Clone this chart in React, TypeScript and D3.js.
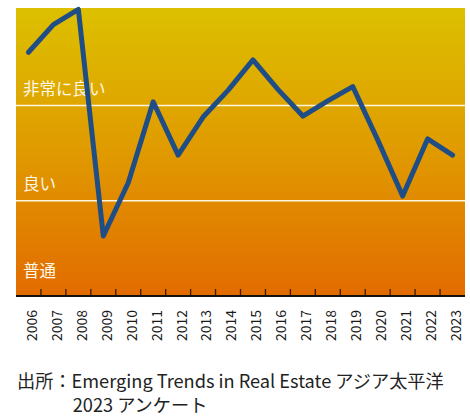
import React from "react";
import * as d3 from "d3";

const years = ["2006","2007","2008","2009","2010","2011","2012","2013","2014","2015","2016","2017","2018","2019","2020","2021","2022","2023"];
const scores = [7.56, 7.85, 8.01, 5.63, 6.19, 7.04, 6.48, 6.88, 7.16, 7.48, 7.17, 6.89, 7.05, 7.2, 6.64, 6.05, 6.65, 6.48];
const levelValues = [7, 6, 5];
const levelLabels = ["非常に良い", "良い", "普通"];
const sourceLine1 = "出所：Emerging Trends in Real Estate アジア太平洋";
const sourceLine2 = "2023 アンケート";

const W = 470, H = 417;
const left = 16, right = 465, top = 8, bottom = 296;

export default function App() {
  const x = d3.scaleBand<string>().domain(years).range([left, right]);
  const y = d3.scaleLinear().domain([5, 8.025]).range([bottom, top]);
  const line = d3.line<number>()
    .x((_, i) => (x(years[i]) as number) + x.bandwidth() / 2)
    .y((d) => y(d));
  const cjk = "'Noto Sans CJK JP', 'Noto Sans', sans-serif";
  return (
    <svg width={W} height={H} style={{ position: "absolute", left: 0, top: 0, display: "block" }}>
      <defs>
        <linearGradient id="bg" x1="0" y1="0" x2="0" y2="1">
          <stop offset="0" stopColor="#dcc000" />
          <stop offset="0.5" stopColor="#e09a00" />
          <stop offset="1" stopColor="#e26b00" />
        </linearGradient>
      </defs>
      <rect x={left} y={top} width={right - left} height={bottom - top} fill="url(#bg)" />
      {levelValues.filter((v) => v > 5).map((v) => (
        <line key={v} x1={left} x2={right} y1={y(v)} y2={y(v)} stroke="#fff6dc" strokeWidth={1.5} />
      ))}
      {levelValues.map((v, i) => (
        <text key={v} x={23} y={v === 5 ? y(v) - 19 : y(v) - 10.5} fill="#fff7e6" fontSize={16.5} fontFamily={cjk}>
          {levelLabels[i]}
        </text>
      ))}
      {years.slice(1).map((yr) => (
        <line key={yr} x1={x(yr) as number} x2={x(yr) as number} y1={bottom - 7} y2={bottom} stroke="#3a1e00" strokeWidth={1.3} />
      ))}
      <line x1={left} x2={right} y1={bottom} y2={bottom} stroke="#111" strokeWidth={1.8} />
      <path d={line(scores) || ""} fill="none" stroke="#1f4d86" strokeWidth={5} strokeLinejoin="round" strokeLinecap="round" />
      {years.map((yr) => (
        <text key={yr}
          transform={`translate(${(x(yr) as number) + x.bandwidth() / 2 + 3.5}, 310) rotate(-90)`}
          textAnchor="end" dy="0.35em" fontSize={14} fill="#1a1a1a" fontFamily={cjk}>
          {yr}
        </text>
      ))}
      <text x={17} y={387.5} fontSize={18.2} fill="#222" fontFamily={cjk}>{sourceLine1}</text>
      <text x={72.7} y={411.5} fontSize={18.2} fill="#222" fontFamily={cjk}>{sourceLine2}</text>
    </svg>
  );
}
